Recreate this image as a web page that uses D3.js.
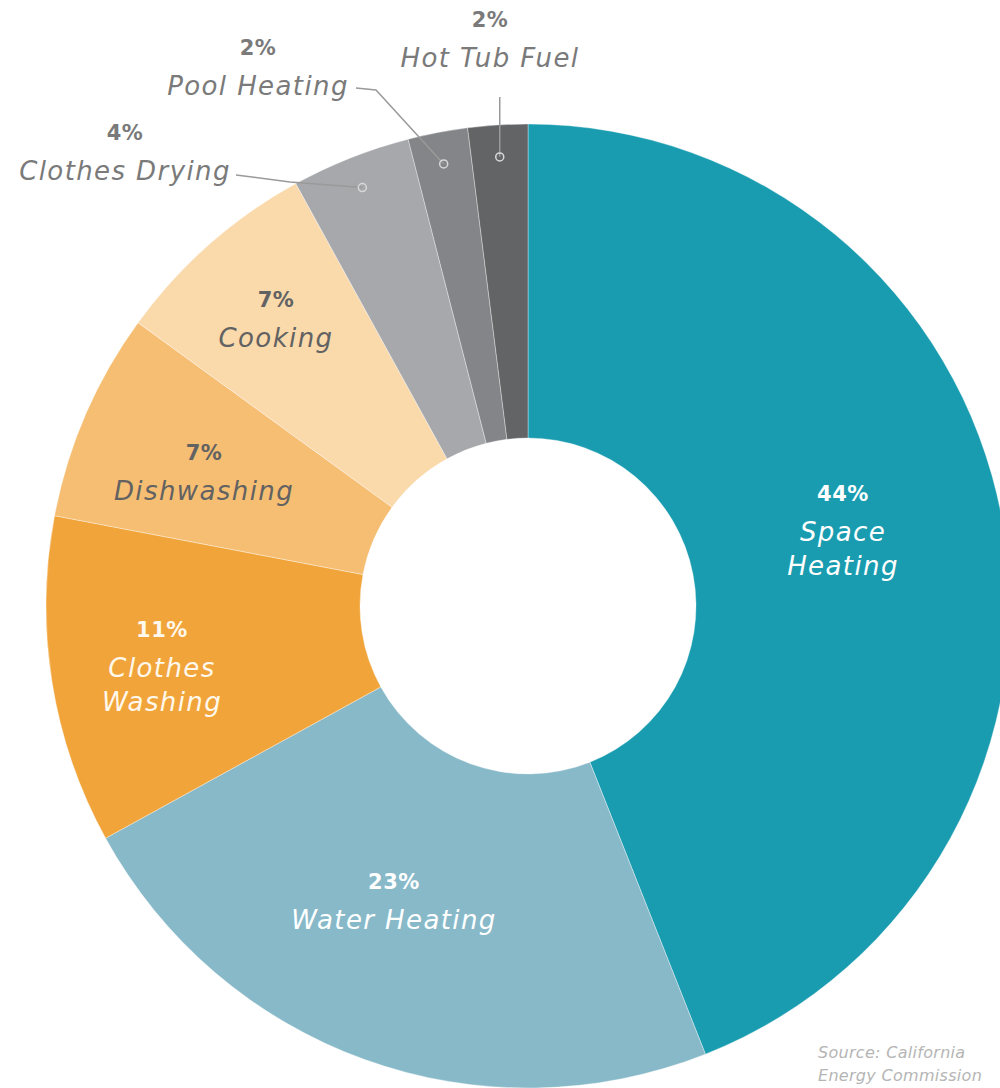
<!DOCTYPE html>
<html>
<head>
<meta charset="utf-8">
<script src="https://cdn.jsdelivr.net/npm/d3@7"></script>
<style>
  html, body { margin: 0; padding: 0; background: #ffffff; }
  svg { display: block; }
</style>
</head>
<body>
<div id="chart"></div>
<script>
// ---- data ----
const categories = ["Space Heating", "Water Heating", "Clothes Washing", "Dishwashing", "Cooking", "Clothes Drying", "Pool Heating", "Hot Tub Fuel"];
const shares = [44, 23, 11, 7, 7, 4, 2, 2];
const percentLabels = ["44%", "23%", "11%", "7%", "7%", "4%", "2%", "2%"];
const nameLines = [["Space", "Heating"], ["Water Heating"], ["Clothes", "Washing"], ["Dishwashing"], ["Cooking"], ["Clothes Drying"], ["Pool Heating"], ["Hot Tub Fuel"]];
const sourceLines = ["Source: California", "Energy Commission"];

// ---- styles / layout ----
const colors = ["#1a9cb0", "#87b9c9", "#f1a43a", "#f6be72", "#fad9ab", "#a6a8ab", "#838588", "#636466"];
const labelColors = ["#ffffff", "#ffffff", "#fff8ec", "#626262", "#626262", "#7a7a7a", "#7a7a7a", "#7a7a7a"];
// label anchor (center x, y of percent line) — layout only
const labelPos = [[843, 494], [394, 882], [162, 630], [204, 453], [276, 300], [125, 133], [258, 48], [490, 20]];
const W = 1000, H = 1088;
const cx = 528, cy = 606, outerR = 482, innerR = 168;

const svg = d3.select("#chart").append("svg").attr("width", W).attr("height", H);

const pie = d3.pie().value(d => d).sort(null);
const arcs = pie(shares);
const arc = d3.arc().innerRadius(innerR).outerRadius(outerR);
const markerArc = d3.arc().innerRadius(450).outerRadius(450);

const g = svg.append("g").attr("transform", `translate(${cx},${cy})`);
g.selectAll("path.slice").data(arcs).join("path")
  .attr("class", "slice")
  .attr("d", arc)
  .attr("fill", (d, i) => colors[i])
  .attr("stroke", "rgba(255,255,255,0.35)")
  .attr("stroke-width", 1);

const fontFam = "'DejaVu Sans', sans-serif";

// labels
categories.forEach((c, i) => {
  const [lx, ly] = labelPos[i];
  const t = svg.append("g").attr("class", "label");
  t.append("text")
    .attr("x", lx).attr("y", ly)
    .attr("text-anchor", "middle").attr("dominant-baseline", "central")
    .attr("font-family", fontFam).attr("font-weight", "bold")
    .attr("font-size", 21).attr("letter-spacing", 0.5)
    .attr("fill", labelColors[i])
    .text(percentLabels[i]);
  nameLines[i].forEach((ln, k) => {
    t.append("text")
      .attr("x", lx).attr("y", ly + 38 + k * 34)
      .attr("text-anchor", "middle").attr("dominant-baseline", "central")
      .attr("font-family", fontFam).attr("font-style", "italic")
      .attr("font-size", 26).attr("letter-spacing", 1.4)
      .attr("fill", labelColors[i])
      .text(ln);
  });
});

// leader lines for small slices (indices 5,6,7)
const leaderColor = "#9a9a9a";
function markerPt(i) {
  const p = markerArc.centroid(arcs[i]);
  return [cx + p[0], cy + p[1]];
}
const leaders = [
  { i: 5, pts: [[236, 175], [290, 182]] },
  { i: 6, pts: [[356, 88], [376, 90]] },
  { i: 7, pts: [[492, 97]] }
];
leaders.forEach(L => {
  const m = markerPt(L.i);
  let pts = L.pts.concat([m]);
  if (L.i === 7) pts = [[m[0], L.pts[0][1]], m];
  svg.append("path")
    .attr("d", d3.line()(pts))
    .attr("fill", "none").attr("stroke", leaderColor).attr("stroke-width", 1.5);
  svg.append("circle")
    .attr("cx", m[0]).attr("cy", m[1]).attr("r", 4)
    .attr("fill", "none").attr("stroke", "#d8d8d8").attr("stroke-width", 1.5);
});

// source
sourceLines.forEach((s, k) => {
  svg.append("text")
    .attr("x", 818).attr("y", 1058 + k * 23)
    .attr("font-family", fontFam).attr("font-style", "italic")
    .attr("font-size", 16).attr("letter-spacing", 0.3)
    .attr("fill", "#b5b5b5")
    .text(s);
});
</script>
</body>
</html>
